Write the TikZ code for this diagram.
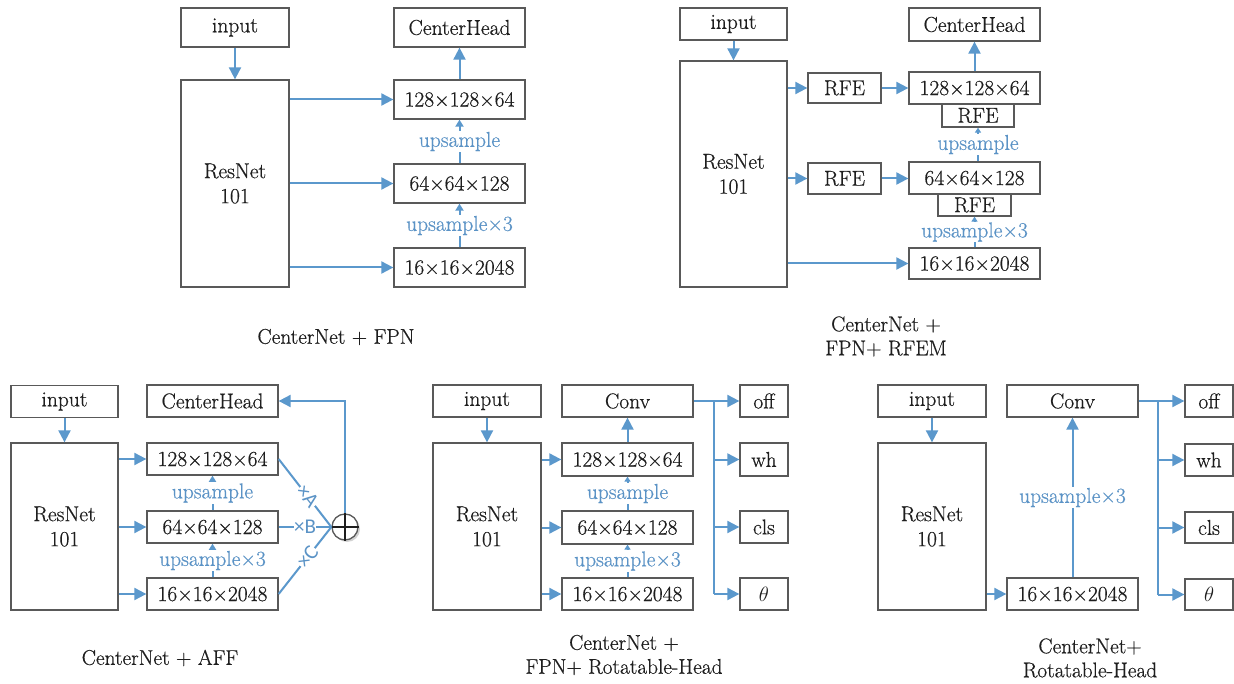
\documentclass[tikz,border=0pt]{standalone}
\usepackage{fontspec}
\setmainfont{Latin Modern Roman}[FakeBold=0.5]
\newfontfamily\lblsans{Carlito}
\usetikzlibrary{arrows.meta,shadows}
\definecolor{lineblue}{HTML}{5B98CC}
\definecolor{labblue}{HTML}{5B93C6}
\definecolor{boxgray}{HTML}{595959}
\definecolor{txt}{HTML}{1E1E1E}

\begin{document}
\begin{tikzpicture}[x=1pt,y=-1pt,
  bx/.style={draw=boxgray, line width=1.3pt, inner sep=0pt, text=txt,
    font=\fontsize{21.5}{25}\selectfont, align=center},
  sz/.style 2 args={minimum width=#1pt, minimum height=#2pt},
  link/.style={draw=lineblue, line width=2pt},
  arr/.style={link, -{Triangle[length=12pt,width=12pt]}},
  uparr/.style={link, -{Triangle[length=7pt,width=8pt]}},
  tinyarr/.style={link, -{Triangle[length=5pt,width=6pt]}},
  uplab/.style={fill=white, text=labblue, inner sep=1pt,
    font=\fontsize{21.5}{24}\selectfont},
  xlab/.style={fill=white, text=labblue, inner sep=0.5pt,
    font=\lblsans\fontsize{21}{22}\selectfont},
  caption/.style={text=txt, align=center, font=\fontsize{21.3}{24}\selectfont}
]
\useasboundingbox (0,0) rectangle (1234,684);
\fill[white] (0,0) rectangle (1234,684);

% ---------- CenterNet + FPN ----------
\node[bx,sz={108}{39}]  (in1) at (235,27.5)   {input};
\node[bx,sz={108}{207}] (rn1) at (235,183.5)  {ResNet\\101};
\node[bx,sz={131}{39}]  (ch1) at (459.5,27.5) {CenterHead};
\node[bx,sz={131}{39}]  (a1)  at (459.5,99.5) {128×128×64};
\node[bx,sz={131}{39}]  (b1)  at (459.5,183.5){64×64×128};
\node[bx,sz={131}{39}]  (c1)  at (459.5,267.5){16×16×2048};
\draw[arr] (in1) -- (rn1);
\draw[arr] (rn1.east |- a1) -- (a1);
\draw[arr] (rn1.east |- b1) -- (b1);
\draw[arr] (rn1.east |- c1) -- (c1);
\draw[arr] (a1) -- (ch1);
\draw[uparr] (b1) -- node[uplab]{upsample} (a1);
\draw[uparr] (c1) -- node[uplab]{upsample×3} (b1);
\node[caption] (cap1) at (336,337) {CenterNet + FPN};

% ---------- CenterNet + FPN + RFEM ----------
\node[bx,sz={107}{32}]  (in2) at (733.5,24)   {input};
\node[bx,sz={107}{226}] (rn2) at (733.5,174)  {ResNet\\101};
\node[bx,sz={73}{30}]   (rfa) at (844.5,88)   {RFE};
\node[bx,sz={73}{31}]   (rfb) at (844.5,178.5){RFE};
\node[bx,sz={131}{33}]  (ch2) at (974.5,24.5) {CenterHead};
\node[bx,sz={131}{32}]  (a2)  at (974.5,88)   {128×128×64};
\node[bx,sz={72}{23}]   (sa)  at (978,115.5)  {RFE};
\node[bx,sz={131}{32}]  (b2)  at (974.5,178)  {64×64×128};
\node[bx,sz={73}{22}]   (sb)  at (974.5,205)  {RFE};
\node[bx,sz={131}{31}]  (c2)  at (974.5,263.5){16×16×2048};
\draw[arr] (in2) -- (rn2);
\draw[arr] (rn2.east |- rfa) -- (rfa);
\draw[arr] (rfa) -- (a2);
\draw[arr] (rn2.east |- rfb) -- (rfb);
\draw[arr] (rfb) -- (b2.west |- rfb);
\draw[arr] (rn2.east |- c2) -- (c2);
\draw[arr] (a2) -- (ch2);
\draw[tinyarr] (b2.north -| sa) -- node[uplab,inner sep=0.5pt]{upsample} (sa.south);
\draw[tinyarr] (c2.north -| sb) -- node[uplab,inner sep=0.5pt]{upsample×3} (sb.south);
\node[caption] (cap2) at (886,336.5) {CenterNet +\\FPN+ RFEM};

% ---------- CenterNet + AFF ----------
\node[bx,sz={107}{32}]  (in3) at (64.5,401.5) {input};
\node[bx,sz={107}{167}] (rn3) at (64.5,526.5) {ResNet\\101};
\node[bx,sz={131}{32}]  (ch3) at (212.5,401)  {CenterHead};
\node[bx,sz={131}{32}]  (a3)  at (212.5,459)  {128×128×64};
\node[bx,sz={131}{32}]  (b3)  at (212.5,527)  {64×64×128};
\node[bx,sz={131}{32}]  (c3)  at (212.5,594)  {16×16×2048};
\node[circle, draw=boxgray, line width=1.3pt, fill=white, minimum size=26pt,
      inner sep=0pt, drop shadow={shadow xshift=2pt, shadow yshift=-2pt, opacity=0.35}]
      (plus) at (345,527) {};
\draw[line width=1.3pt, txt] (plus.north) -- (plus.south) (plus.west) -- (plus.east);
\draw[arr] (in3) -- (rn3);
\draw[arr] (rn3.east |- a3) -- (a3);
\draw[arr] (rn3.east |- b3) -- (b3);
\draw[arr] (rn3.east |- c3) -- (c3);
\draw[uparr] (b3) -- node[uplab]{upsample} (a3);
\draw[uparr] (c3) -- node[uplab]{upsample×3} (b3);
\draw[link] (a3.east) -- node[xlab,sloped,pos=0.55]{×A} (plus.west);
\draw[link] (b3.east) -- node[xlab]{×B} (plus.west);
\draw[link] (c3.east) -- node[xlab,sloped,pos=0.55]{×C} (plus.west);
\draw[arr] (plus.north) |- (ch3.east);
\node[caption] (cap3) at (160,658) {CenterNet + AFF};

% ---------- CenterNet + FPN + Rotatable-Head ----------
\node[bx,sz={108}{32}]  (in4)  at (487,401)    {input};
\node[bx,sz={108}{167}] (rn4)  at (487,526.5)  {ResNet\\101};
\node[bx,sz={131}{32}]  (cv4)  at (627.5,401)  {Conv};
\node[bx,sz={131}{33}]  (a4)   at (627.5,459.5){128×128×64};
\node[bx,sz={131}{33}]  (b4)   at (627.5,527.5){64×64×128};
\node[bx,sz={131}{32}]  (c4)   at (627.5,594)  {16×16×2048};
\node[bx,sz={48}{32}]   (off4) at (764,401)    {off};
\node[bx,sz={48}{33}]   (wh4)  at (764,459.5)  {wh};
\node[bx,sz={48}{32}]   (cls4) at (764,527)    {cls};
\node[bx,sz={48}{32}]   (th4)  at (764,594)    {$\theta$};
\coordinate (br4) at (714,401);
\draw[arr] (in4) -- (rn4);
\draw[arr] (rn4.east |- a4) -- (a4);
\draw[arr] (rn4.east |- b4) -- (b4);
\draw[arr] (rn4.east |- c4) -- (c4);
\draw[arr] (a4) -- (cv4);
\draw[tinyarr] (b4) -- node[uplab]{upsample} (a4);
\draw[tinyarr] (c4) -- node[uplab]{upsample×3} (b4);
\draw[arr] (cv4) -- (off4);
\draw[link] (br4) -- (br4 |- th4);
\draw[arr] (br4 |- wh4) -- (wh4);
\draw[arr] (br4 |- cls4) -- (cls4);
\draw[arr] (br4 |- th4) -- (th4);
\node[caption] (cap4) at (624,655) {CenterNet +\\FPN+ Rotatable-Head};

% ---------- CenterNet + Rotatable-Head ----------
\node[bx,sz={108}{32}]  (in5)  at (932,401)    {input};
\node[bx,sz={108}{167}] (rn5)  at (932,526.5)  {ResNet\\101};
\node[bx,sz={131}{32}]  (cv5)  at (1072.5,401) {Conv};
\node[bx,sz={131}{32}]  (c5)   at (1072.5,594) {16×16×2048};
\node[bx,sz={48}{32}]   (off5) at (1209,401)   {off};
\node[bx,sz={48}{32}]   (wh5)  at (1209,460)   {wh};
\node[bx,sz={48}{31}]   (cls5) at (1209,527.5) {cls};
\node[bx,sz={48}{31}]   (th5)  at (1209,594.5) {$\theta$};
\coordinate (br5) at (1158,401);
\draw[arr] (in5) -- (rn5);
\draw[arr] (rn5.east |- c5) -- (c5);
\draw[arr] (c5) -- node[uplab]{upsample×3} (cv5);
\draw[arr] (cv5) -- (off5);
\draw[link] (br5) -- (br5 |- th5);
\draw[arr] (br5 |- wh5) -- (wh5);
\draw[arr] (br5 |- cls5) -- (cls5);
\draw[arr] (br5 |- th5) -- (th5);
\node[caption] (cap5) at (1090,658) {CenterNet+\\Rotatable-Head};
\end{tikzpicture}
\end{document}
